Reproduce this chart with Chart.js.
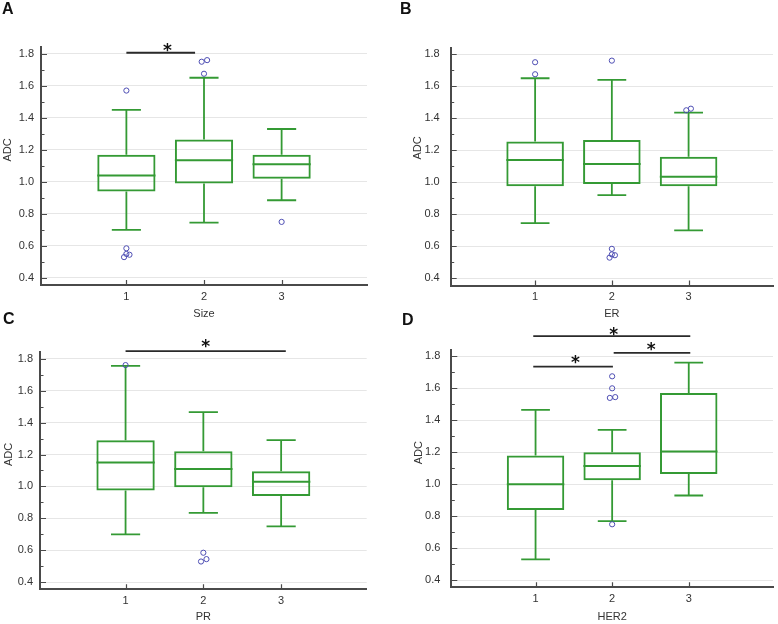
<!DOCTYPE html>
<html>
<head>
<meta charset="utf-8">
<script src="https://cdn.jsdelivr.net/npm/chart.js@4.4.1/dist/chart.umd.min.js"></script>
<style>
  body { margin: 0; background: #fff; }
  #wrap { position: relative; width: 778px; height: 624px; overflow: hidden; background: #fff; }
  canvas { position: absolute; }
  .tag { position: absolute; font: bold 16px "Liberation Sans", Arial, sans-serif; line-height: 16px; color: #111; }
</style>
</head>
<body>
<div id="wrap">
  <canvas id="chartA" width="389" height="330" style="left:0;top:0"></canvas>
  <canvas id="chartB" width="389" height="330" style="left:389px;top:0"></canvas>
  <canvas id="chartC" width="389" height="312" style="left:0;top:312px"></canvas>
  <canvas id="chartD" width="389" height="312" style="left:389px;top:312px"></canvas>
  <div class="tag" style="left:2px;top:1px">A</div>
  <div class="tag" style="left:400px;top:1px">B</div>
  <div class="tag" style="left:3px;top:311px">C</div>
  <div class="tag" style="left:402px;top:312px">D</div>
</div>
<script>
// groups on the x axis, ADC tick values
const groups = [1, 2, 3];
const adcMajor = [0.4, 0.6, 0.8, 1.0, 1.2, 1.4, 1.6, 1.8];
const adcMinor = [0.5, 0.7, 0.9, 1.1, 1.3, 1.5, 1.7];
const yTitle = 'ADC';

// box rows: [low whisker, Q1, median, Q3, high whisker]
const sizeBoxes = [[0.70, 0.94, 1.04, 1.17, 1.45], [0.745, 0.99, 1.135, 1.265, 1.65], [0.885, 1.02, 1.11, 1.17, 1.33]];
const erBoxes   = [[0.745, 0.975, 1.14, 1.255, 1.65], [0.92, 0.99, 1.115, 1.265, 1.64], [0.70, 0.975, 1.035, 1.16, 1.435]];
const prBoxes   = [[0.70, 0.975, 1.15, 1.29, 1.755], [0.835, 0.995, 1.11, 1.22, 1.465], [0.75, 0.94, 1.03, 1.095, 1.29]];
const her2Boxes = [[0.53, 0.84, 1.0, 1.18, 1.465], [0.77, 1.025, 1.115, 1.2, 1.34], [0.93, 1.065, 1.205, 1.57, 1.76]];

// outliers: [x, ADC]
const sizeOutliers = [[1, 1.57], [1, 0.585], [0.97, 0.53], [1, 0.55], [1.04, 0.545],
                      [1.97, 1.75], [2.04, 1.76], [2, 1.675], [3, 0.75]];
const erOutliers   = [[1, 1.75], [1, 1.675], [2, 1.76], [2, 0.585], [1.97, 0.53], [2.04, 0.545], [2, 0.55],
                      [2.97, 1.45], [3.03, 1.46]];
const prOutliers   = [[1, 1.76], [2, 0.585], [2.04, 0.545], [1.97, 0.53]];
const her2Outliers = [[2, 1.675], [2, 1.60], [1.97, 1.54], [2.04, 1.545], [2, 0.75]];

// significance bars: [from, to, bar ADC, star x, star ADC]
const sizeSig = [[1, 1.885, 1.806, 1.53, 1.849]];
const erSig = [];
const prSig = [[1, 3.06, 1.848, 2.03, 1.9]];
const her2Sig = [[0.97, 3.02, 1.926, 2.02, 1.964], [2.02, 3.02, 1.822, 2.51, 1.868], [0.97, 2.01, 1.735, 1.52, 1.785]];

const GREEN = '#349a34';
const BLUE = '#4d4db3';
const AXIS = '#4a4a4a';
const GRID = '#e6e6e6';
const TEXT = '#333';

Chart.defaults.font.family = '"Liberation Sans", Arial, sans-serif';
Chart.defaults.font.size = 11;
Chart.defaults.color = TEXT;

const isMajor = v => Math.round(v * 10) % 2 === 0;

function makePanel(L, axisName, boxes, outliers, sig) {
  const drawBox = {
    id: 'boxWhiskers',
    beforeDatasetsDraw(chart) {
      const {ctx, scales: {x, y}} = chart;
      const bars = chart.getDatasetMeta(0).data;
      ctx.save();
      ctx.strokeStyle = GREEN;
      boxes.forEach((b, i) => {
        const px = x.getPixelForValue(groups[i]);
        const half = bars[i].width / 2;
        const cap = half / 2;
        ctx.lineWidth = 1.8;
        ctx.beginPath();
        ctx.moveTo(px, y.getPixelForValue(b[0]));
        ctx.lineTo(px, y.getPixelForValue(b[1]));
        ctx.moveTo(px, y.getPixelForValue(b[3]));
        ctx.lineTo(px, y.getPixelForValue(b[4]));
        ctx.moveTo(px - cap, y.getPixelForValue(b[0]));
        ctx.lineTo(px + cap, y.getPixelForValue(b[0]));
        ctx.moveTo(px - cap, y.getPixelForValue(b[4]));
        ctx.lineTo(px + cap, y.getPixelForValue(b[4]));
        ctx.stroke();
        ctx.lineWidth = 2;
        ctx.beginPath();
        ctx.moveTo(px - half, y.getPixelForValue(b[2]));
        ctx.lineTo(px + half, y.getPixelForValue(b[2]));
        ctx.stroke();
      });
      ctx.restore();
    },
    afterDraw(chart) {
      const {ctx, chartArea: a, scales: {x, y}} = chart;
      ctx.save();
      // inward tick marks
      ctx.strokeStyle = AXIS;
      ctx.lineWidth = 1.2;
      ctx.beginPath();
      y.ticks.forEach(t => {
        const py = Math.round(y.getPixelForValue(t.value)) + 0.5;
        ctx.moveTo(a.left, py);
        ctx.lineTo(a.left + (isMajor(t.value) ? 6 : 3.5), py);
      });
      x.ticks.forEach(t => {
        const px = Math.round(x.getPixelForValue(t.value)) + 0.5;
        ctx.moveTo(px, a.bottom);
        ctx.lineTo(px, a.bottom - 5);
      });
      ctx.stroke();
      // y title
      ctx.fillStyle = TEXT;
      ctx.font = '11px "Liberation Sans", Arial, sans-serif';
      ctx.textAlign = 'center';
      ctx.textBaseline = 'middle';
      ctx.translate(L.titleX, L.titleY);
      ctx.rotate(-Math.PI / 2);
      ctx.fillText(yTitle, 0, 0);
      ctx.restore();
      // significance bars
      ctx.save();
      ctx.strokeStyle = '#2a2a2a';
      ctx.fillStyle = '#111';
      ctx.lineWidth = 1.8;
      ctx.font = 'bold 17px "DejaVu Sans", sans-serif';
      ctx.textAlign = 'center';
      ctx.textBaseline = 'alphabetic';
      sig.forEach(s => {
        const py = y.getPixelForValue(s[2]);
        ctx.beginPath();
        ctx.moveTo(x.getPixelForValue(s[0]), py);
        ctx.lineTo(x.getPixelForValue(s[1]), py);
        ctx.stroke();
        ctx.fillText('*', x.getPixelForValue(s[3]), y.getPixelForValue(s[4]) + 0.57 * 17);
      });
      ctx.restore();
    }
  };

  return new Chart(document.getElementById(L.id), {
    type: 'bar',
    data: {
      datasets: [{
        type: 'bar',
        data: groups.map((g, i) => ({x: g, y: [boxes[i][1], boxes[i][3]]})),
        backgroundColor: 'rgba(0,0,0,0)',
        borderColor: GREEN,
        borderWidth: 2,
        borderSkipped: false,
        barPercentage: 0.75,
        categoryPercentage: 1,
        order: 2
      }, {
        type: 'scatter',
        data: outliers.map(o => ({x: o[0], y: o[1]})),
        pointRadius: 2.6,
        pointBorderWidth: 1,
        pointBorderColor: BLUE,
        pointBackgroundColor: 'rgba(0,0,0,0)',
        order: 1
      }]
    },
    options: {
      responsive: false,
      animation: false,
      events: [],
      layout: { padding: { top: L.padTop, right: L.padRight, left: 0, bottom: 0 } },
      plugins: { legend: { display: false }, tooltip: { enabled: false } },
      scales: {
        x: {
          type: 'linear',
          min: -0.1,
          max: 4.1,
          offset: false,
          afterFit: s => { s.height = L.xHeight; },
          afterBuildTicks: s => { s.ticks = groups.map(v => ({value: v})); },
          grid: { color: 'rgba(0,0,0,0)', drawTicks: false, offset: false },
          border: { color: AXIS, width: 2 },
          ticks: { padding: 5, callback: v => String(v) },
          title: { display: true, text: axisName, padding: { top: 0, bottom: L.xTitlePad } }
        },
        y: {
          min: 0.356,
          max: 1.842,
          afterFit: s => { s.width = L.yWidth; },
          afterBuildTicks: s => {
            s.ticks = adcMajor.concat(adcMinor).sort((p, q) => p - q).map(v => ({value: v}));
          },
          grid: {
            color: c => (c.tick && isMajor(c.tick.value)) ? GRID : 'rgba(0,0,0,0)',
            drawTicks: false
          },
          border: { color: AXIS, width: 2 },
          ticks: { padding: L.yTickPad, callback: v => isMajor(v) ? v.toFixed(1) : '' }
        }
      }
    },
    plugins: [drawBox]
  });
}

const layoutA = {id: 'chartA', padTop: 47, padRight: 22, yWidth: 41, xHeight: 45, xTitlePad: 9, yTickPad: 7, titleX: 8, titleY: 150};
const layoutB = {id: 'chartB', padTop: 47.5, padRight: 2, yWidth: 61.7, xHeight: 44.5, xTitlePad: 9.4, yTickPad: 11, titleX: 29, titleY: 148};
const layoutC = {id: 'chartC', padTop: 40, padRight: 22.3, yWidth: 40, xHeight: 34.7, xTitlePad: 0, yTickPad: 7, titleX: 8.5, titleY: 142.5};
const layoutD = {id: 'chartD', padTop: 37.6, padRight: 2.3, yWidth: 62.3, xHeight: 36.7, xTitlePad: 0.4, yTickPad: 11, titleX: 29.5, titleY: 140.7};

makePanel(layoutA, 'Size', sizeBoxes, sizeOutliers, sizeSig);
makePanel(layoutB, 'ER', erBoxes, erOutliers, erSig);
makePanel(layoutC, 'PR', prBoxes, prOutliers, prSig);
makePanel(layoutD, 'HER2', her2Boxes, her2Outliers, her2Sig);
</script>
</body>
</html>
